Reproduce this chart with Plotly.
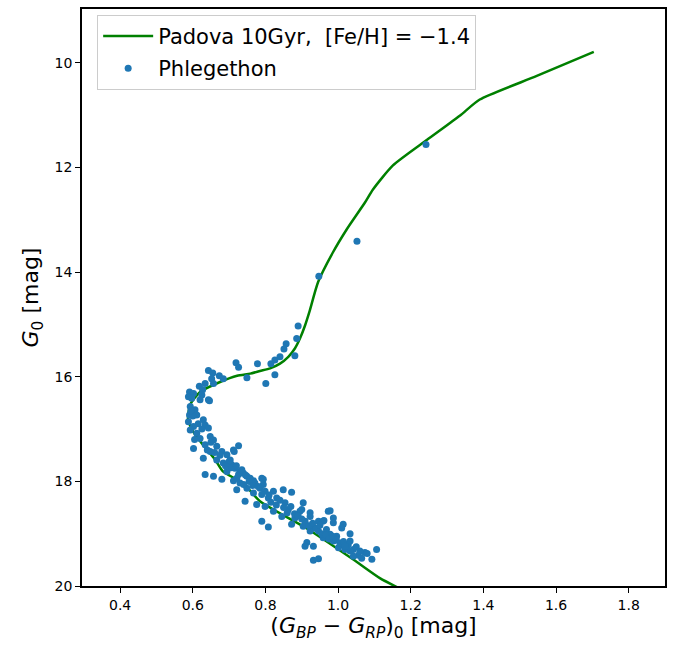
import plotly.graph_objects as go

# Padova isochrone (10 Gyr, [Fe/H] = -1.4)
iso_color = [1.704, 1.547, 1.39, 1.335, 1.245, 1.151, 1.096, 1.074, 1.024, 0.986, 0.945,
             0.921, 0.909, 0.895, 0.881, 0.863, 0.840, 0.813, 0.785, 0.758, 0.722,
             0.675, 0.620, 0.593, 0.587,
             0.601, 0.628, 0.661, 0.683, 0.739, 0.785, 0.914, 1.041, 1.115, 1.17]
iso_mag = [9.79, 10.25, 10.70, 11.01, 11.47, 11.96, 12.42, 12.67, 13.18, 13.62, 14.19,
           14.76, 15.02, 15.27, 15.46, 15.62, 15.75, 15.84, 15.89, 15.94, 15.98,
           16.10, 16.29, 16.53, 16.80,
           17.05, 17.30, 17.58, 17.81, 18.04, 18.38, 18.90, 19.49, 19.85, 20.05]

# Phlegethon stars
star_color = [
    1.242, 1.052, 0.947,
    0.890, 0.886, 0.857, 0.851, 0.840, 0.881, 0.826, 0.815, 0.778, 0.719, 0.726, 0.826,
    0.801, 0.749, 0.643, 0.655, 0.673, 0.684, 0.652, 0.634, 0.657, 0.618, 0.627, 0.591,
    0.602, 0.625, 0.588, 0.643,
    0.597, 0.620, 0.646, 0.593, 0.606, 0.591, 0.611, 0.629, 0.588, 0.634, 0.602, 0.643,
    0.593, 0.611, 0.648, 0.620, 0.657, 0.602, 0.634, 0.666, 0.726, 0.712, 0.648, 0.680,
    0.694, 0.629, 0.666, 0.703, 0.684, 0.712, 0.694, 0.730, 0.634, 0.657, 0.721, 0.749,
    0.680, 0.767, 0.790, 0.794,
    0.714, 0.707, 0.716, 0.739, 0.726, 0.758, 0.712, 0.730, 0.771, 0.794, 0.749, 0.721,
    0.785, 0.799, 0.767, 0.822, 0.849, 0.872, 0.808, 0.831, 0.744, 0.776, 0.854, 0.904,
    0.799, 0.822, 0.863, 0.895, 0.923, 0.845, 0.881, 0.790, 0.909, 0.946, 0.973, 0.808,
    0.872, 0.958,
    0.900, 0.923, 0.978, 0.961, 0.987, 0.987, 1.014, 0.904, 0.936, 0.968, 0.946, 0.923,
    1.033, 0.978, 0.996, 0.959, 0.914, 0.909, 0.932, 1.010, 1.028, 0.987, 1.042, 1.074,
    1.056, 1.106, 1.093, 1.065, 0.932, 0.946, 1.010, 1.033, 1.019, 1.001, 1.042, 1.033,
    0.700, 0.705, 0.720, 0.735, 0.745, 0.755, 0.765, 0.740, 0.780, 0.790, 0.810, 0.815,
    0.830, 0.840, 0.850, 0.860, 0.870, 0.880, 0.890, 0.900, 0.910, 0.920, 0.930, 0.940,
    0.950, 0.955, 0.965, 0.975, 0.985, 0.995, 1.005, 1.015, 1.020, 1.050, 1.060, 1.080,
    0.675, 0.660, 0.690, 0.650, 0.615, 0.600, 0.605, 0.625, 0.640, 0.595,
]
star_mag = [
    11.56, 13.41, 14.08,
    15.03, 15.27, 15.37, 15.47, 15.62, 15.60, 15.68, 15.75, 15.75, 15.73, 15.82, 15.96,
    16.13, 16.02, 15.88, 15.93, 15.98, 16.04, 16.04, 16.13, 16.13, 16.18, 16.25, 16.29,
    16.32, 16.35, 16.38, 16.44,
    16.41, 16.44, 16.46, 16.57, 16.63, 16.73, 16.73, 16.82, 16.86, 16.92, 16.95, 16.98,
    17.02, 17.08, 17.14, 17.18, 17.21, 17.37, 17.30, 17.33, 17.32, 17.40, 17.43, 17.43,
    17.49, 17.56, 17.59, 17.59, 17.65, 17.71, 17.81, 17.81, 17.87, 17.90, 17.94, 17.90,
    17.96, 17.99, 17.94, 18.06,
    17.43, 17.68, 17.75, 17.84, 17.87, 17.94, 17.99, 18.03, 18.03, 17.96, 18.13, 18.16,
    18.13, 18.19, 18.22, 18.19, 18.16, 18.21, 18.32, 18.32, 18.38, 18.44, 18.41, 18.41,
    18.48, 18.57, 18.54, 18.57, 18.60, 18.67, 18.70, 18.76, 18.76, 18.76, 18.57, 18.87,
    18.82, 18.76,
    18.54, 18.67, 18.56, 18.75, 18.70, 18.79, 18.82, 18.86, 18.89, 18.92, 18.95, 18.95,
    19.00, 19.01, 19.05, 19.08, 19.17, 19.24, 19.24, 19.21, 19.21, 19.14, 19.30, 19.36,
    19.41, 19.30, 19.49, 19.47, 19.51, 19.48, 18.89, 19.14, 19.30, 19.27, 19.43, 19.33,
    17.62, 17.74, 17.70, 17.78, 17.88, 18.00, 18.08, 18.06, 18.10, 18.25, 18.26, 18.40,
    18.45, 18.36, 18.50, 18.60, 18.48, 18.62, 18.66, 18.72, 18.82, 18.85, 18.80, 18.90,
    18.84, 19.00, 19.02, 19.10, 19.05, 19.12, 19.18, 19.15, 19.24, 19.25, 19.33, 19.38,
    17.50, 17.45, 17.70, 17.25, 16.90, 16.75, 17.20, 17.00, 17.40, 16.65,
]

x_ticks = [0.4, 0.6, 0.8, 1.0, 1.2, 1.4, 1.6, 1.8]
y_ticks = [10, 12, 14, 16, 18, 20]

fig = go.Figure()
fig.add_trace(go.Scatter(
    x=iso_color, y=iso_mag, mode="lines",
    line=dict(color="#008000", width=2.5, shape="spline", smoothing=0.6),
    name="Padova 10Gyr,  [Fe/H] = −1.4", legendgroup="iso",
))
fig.add_trace(go.Scatter(
    x=star_color, y=star_mag, mode="markers",
    marker=dict(color="#1f77b4", size=7, line=dict(width=0)),
    name="Phlegethon", legendgroup="stars",
))

axis_common = dict(
    showline=True, linecolor="black", linewidth=1.5, mirror=True,
    ticks="outside", ticklen=5, tickwidth=1.2, tickcolor="black",
    showgrid=False, zeroline=False,
    tickfont=dict(size=14, color="black"),
)

fig.update_layout(
    width=694, height=649,
    margin=dict(l=82, r=29, t=7, b=63),
    paper_bgcolor="white", plot_bgcolor="white",
    font=dict(family="DejaVu Sans", color="black"),
    xaxis=dict(range=[0.295, 1.9], tickvals=x_ticks, ticktext=[f"{v:.1f}" for v in x_ticks],
               title=dict(text="(<i>G</i><sub><i>BP</i></sub> − <i>G</i><sub><i>RP</i></sub>)<sub>0</sub> [mag]",
                          font=dict(size=22), standoff=6),
               **axis_common),
    yaxis=dict(range=[20, 8.97], tickvals=y_ticks, ticktext=[str(v) for v in y_ticks],
               title=dict(text="<i>G</i><sub>0</sub> [mag]", font=dict(size=22), standoff=10),
               **axis_common),
    legend=dict(x=0.026, y=0.99, xanchor="left", yanchor="top",
                bgcolor="white", bordercolor="#cccccc", borderwidth=1,
                font=dict(size=21), itemwidth=50, tracegroupgap=2),
    showlegend=True,
)

fig.write_html("out.html", post_script="document.body.style.margin='0px';",
               config={"displayModeBar": False})
